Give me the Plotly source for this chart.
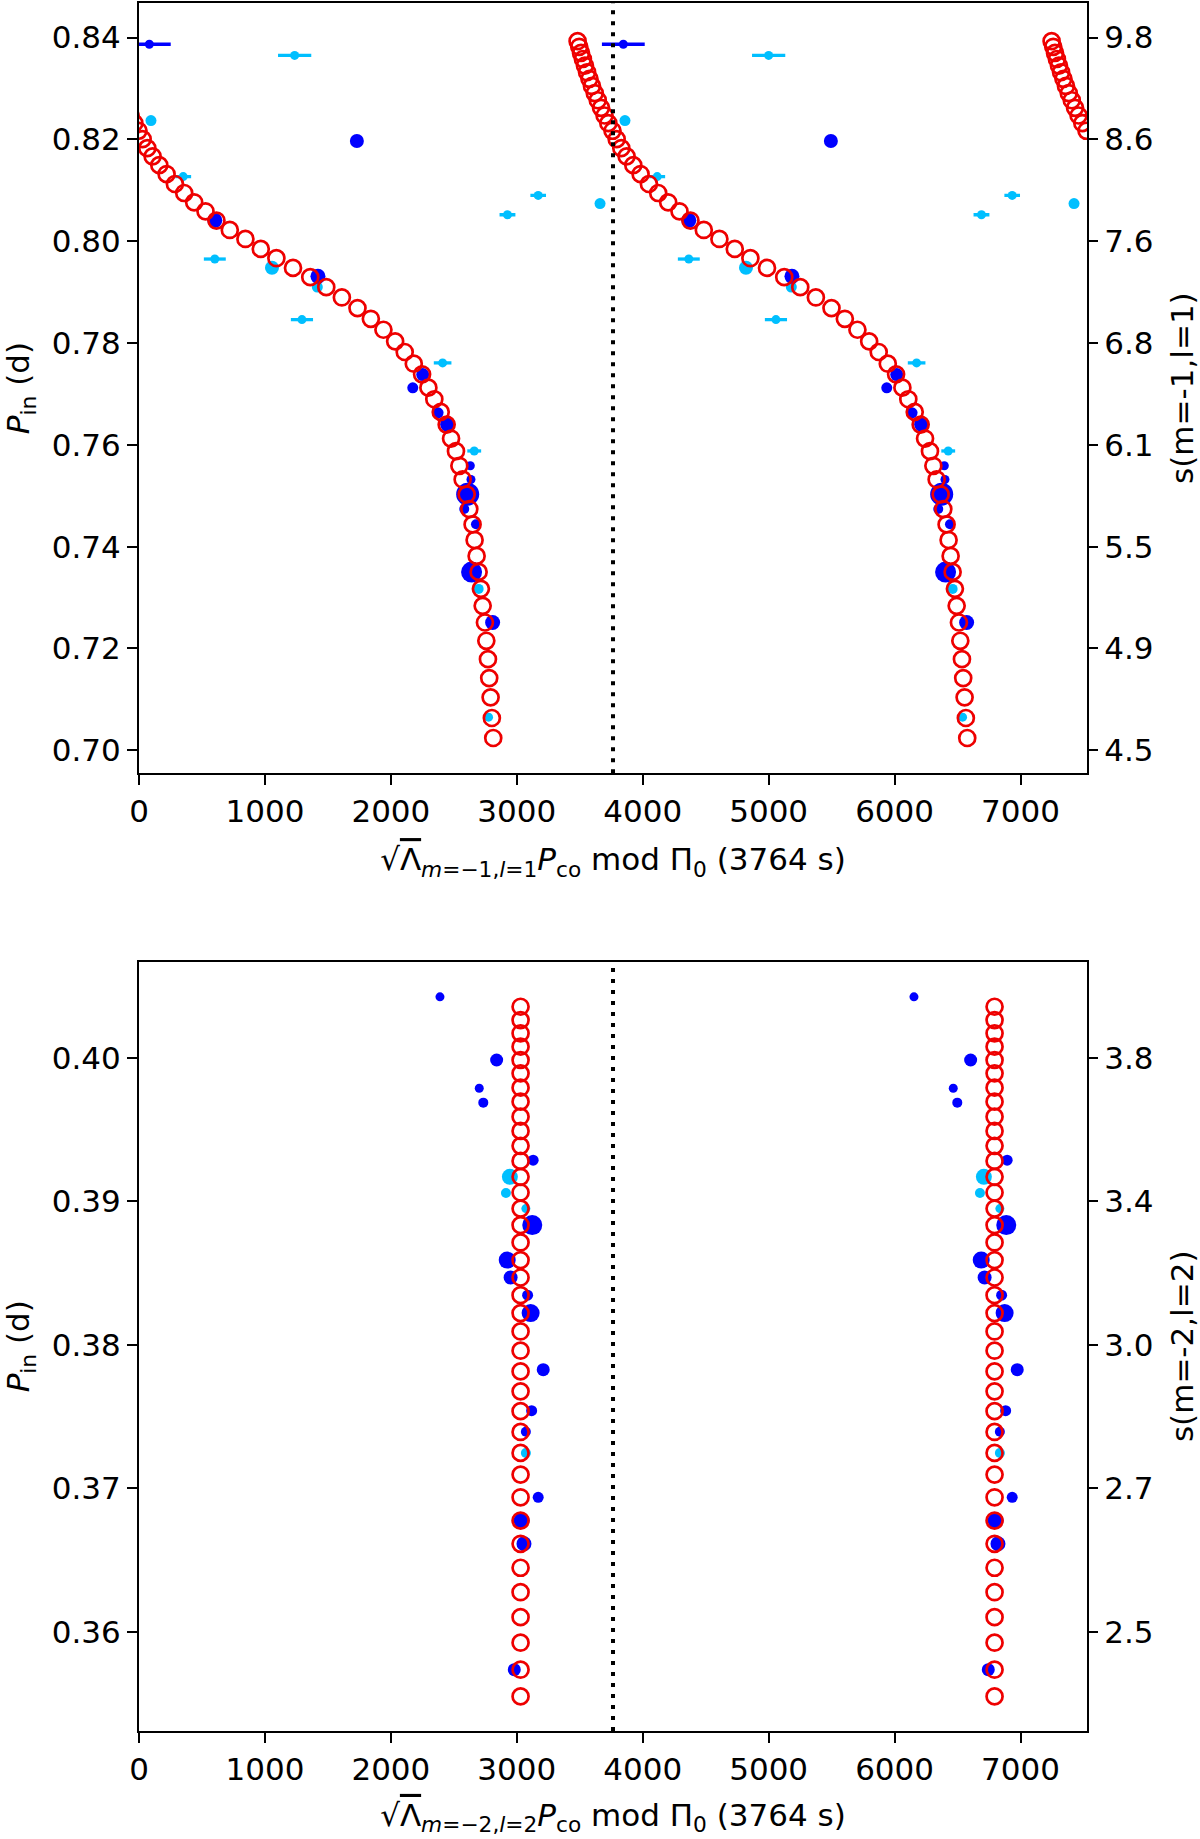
import numpy as np
import plotly.graph_objects as go

PI0 = 3764

# ---------------- top panel (m=-1, l=1) ----------------
top_model_v = [2813, 2802, 2792, 2781, 2771, 2758, 2747, 2729, 2715, 2697, 2681, 2665, 2649,
               2623, 2602, 2570, 2544, 2517, 2478, 2443, 2396, 2345, 2298, 2248, 2182, 2110,
               2034, 1941, 1841, 1735, 1611, 1487, 1360, 1223, 1091, 967, 845, 721, 615, 528,
               438, 359, 285, 219, 161, 108, 66, 29,
               3760, 3727, 3697, 3669, 3643, 3619, 3597, 3577, 3558, 3541, 3525, 3510, 3496, 3483]
top_model_P = [0.70241, 0.70634, 0.71039, 0.71418, 0.71790, 0.72151, 0.72510, 0.72837, 0.73171,
               0.73504, 0.73818, 0.74131, 0.74437, 0.74739, 0.75025, 0.75320, 0.75588, 0.75876,
               0.76124, 0.76398, 0.76647, 0.76896, 0.77124, 0.77386, 0.77594, 0.77824, 0.78033,
               0.78261, 0.78476, 0.78686, 0.78896, 0.79098, 0.79294, 0.79476, 0.79667, 0.79849,
               0.80045, 0.80222, 0.80406, 0.80588, 0.80765, 0.80947, 0.81124, 0.81320, 0.81496,
               0.81667, 0.81829, 0.82006,
               0.8217, 0.8232, 0.8247, 0.8262, 0.8277, 0.8291, 0.8305, 0.8319, 0.8332, 0.8345,
               0.8358, 0.8370, 0.8382, 0.8393]

top_blue_v = [82, 1730, 602, 1421, 2253, 2174, 2375, 2451, 2631, 2636, 2610, 2583, 2676, 2641, 2808]
top_blue_P = [0.8387, 0.8197, 0.8041, 0.7931, 0.7738, 0.7712, 0.7663, 0.7640, 0.7559, 0.7532,
              0.7503, 0.7474, 0.7444, 0.7350, 0.7251]
top_blue_size = [9, 14, 15, 15, 13, 11, 11, 15, 9, 9, 23, 10, 10, 21, 15]
top_blue_err = [170, 0, 0, 0, 0, 0, 0, 0, 0, 0, 0, 0, 15, 0, 0]

top_lblue_v = [1236, 95, 351, 3170, 2926, 3661, 602, 1056, 1416, 1294, 2411, 2662, 2697, 2776]
top_lblue_P = [0.8365, 0.8237, 0.8127, 0.8090, 0.8052, 0.8074, 0.7965, 0.7948, 0.7910, 0.7846,
               0.7761, 0.7588, 0.7317, 0.7065]
top_lblue_size = [9, 11, 9, 9, 9, 11, 9, 14, 11, 9, 9, 9, 10, 9]
top_lblue_err = [132, 20, 63, 62, 63, 15, 87, 0, 0, 88, 70, 55, 0, 0]

top_left_ticks = [0.70, 0.72, 0.74, 0.76, 0.78, 0.80, 0.82, 0.84]
top_left_labels = ["0.70", "0.72", "0.74", "0.76", "0.78", "0.80", "0.82", "0.84"]
top_right_labels = ["4.5", "4.9", "5.5", "6.1", "6.8", "7.6", "8.6", "9.8"]

# ---------------- bottom panel (m=-2, l=2) ----------------
bot_model_v = [3030] * 38
bot_model_P = [0.40355, 0.40262, 0.40170, 0.40077, 0.39984, 0.39891, 0.39791, 0.39694, 0.39589,
               0.39490, 0.39386, 0.39281, 0.39170, 0.39061, 0.38949, 0.38834, 0.38713, 0.38590,
               0.38469, 0.38346, 0.38221, 0.38093, 0.37959, 0.37815, 0.37676, 0.37538, 0.37393,
               0.37247, 0.37096, 0.36938, 0.36776, 0.36614, 0.36447, 0.36277, 0.36103, 0.35925,
               0.35737, 0.35551]

bot_blue_v = [2390, 2840, 2702, 2734, 3130, 3123, 2924, 2951, 3086, 3110, 3210, 3118, 3072,
              3170, 3038, 3057, 2980]
bot_blue_P = [0.40424, 0.39984, 0.39787, 0.39687, 0.39286, 0.38834, 0.38590, 0.38469, 0.38346,
              0.38221, 0.37827, 0.37541, 0.37395, 0.36938, 0.36776, 0.36614, 0.35737]
bot_blue_size = [9, 13, 9, 10, 11, 20, 17, 14, 11, 18, 13, 11, 10, 11, 16, 15, 13]
bot_blue_err = [20, 0, 0, 0, 0, 0, 0, 0, 0, 0, 0, 0, 0, 0, 0, 0, 0]

bot_lblue_v = [2945, 2914, 3072, 3072]
bot_lblue_P = [0.39170, 0.39058, 0.38949, 0.37247]
bot_lblue_size = [16, 10, 9, 10]
bot_lblue_err = [0, 0, 0, 0]

bot_left_ticks = [0.36, 0.37, 0.38, 0.39, 0.40]
bot_left_labels = ["0.36", "0.37", "0.38", "0.39", "0.40"]
bot_right_labels = ["2.5", "2.7", "3.0", "3.4", "3.8"]

x_ticks = [0, 1000, 2000, 3000, 4000, 5000, 6000, 7000]

BLUE = "#0000ff"
LBLUE = "#00bfff"
RED = "#ee0000"
FONT = "DejaVu Sans"
FS = 31


def copies(a):
    a = np.asarray(a, dtype=float)
    return np.concatenate([a - PI0, a, a + PI0])


def tile(a):
    a = np.asarray(a, dtype=float)
    return np.concatenate([a, a, a])


fig = go.Figure()


def add_obs(v, p, size, err, color, xa, ya):
    fig.add_trace(go.Scatter(
        x=copies(v), y=tile(p), mode="markers", xaxis=xa, yaxis=ya, showlegend=False,
        hoverinfo="skip",
        marker=dict(color=color, size=tile(size), opacity=1, line=dict(width=0)),
        error_x=dict(type="data", array=tile(err), color=color, thickness=3.3, width=0),
    ))


def add_model(v, p, xa, ya):
    fig.add_trace(go.Scatter(
        x=copies(v), y=tile(p), mode="markers", xaxis=xa, yaxis=ya, showlegend=False,
        marker=dict(symbol="circle-open", color=RED, size=16, opacity=1,
                    line=dict(width=2.7, color=RED)),
    ))


def add_anchor(v, p, xa, ya):
    # invisible copy so the right-hand (overlaying) axis is rendered
    fig.add_trace(go.Scatter(
        x=copies(v), y=tile(p), mode="markers", xaxis=xa, yaxis=ya, showlegend=False,
        hoverinfo="skip", marker=dict(opacity=0, size=1),
    ))


add_obs(top_lblue_v, top_lblue_P, top_lblue_size, top_lblue_err, LBLUE, "x", "y")
add_obs(top_blue_v, top_blue_P, top_blue_size, top_blue_err, BLUE, "x", "y")
add_model(top_model_v, top_model_P, "x", "y")
add_anchor(top_model_v, top_model_P, "x", "y3")
add_obs(bot_lblue_v, bot_lblue_P, bot_lblue_size, bot_lblue_err, LBLUE, "x2", "y2")
add_obs(bot_blue_v, bot_blue_P, bot_blue_size, bot_blue_err, BLUE, "x2", "y2")
add_model(bot_model_v, bot_model_P, "x2", "y2")
add_anchor(bot_model_v, bot_model_P, "x2", "y4")

XRANGE = [0, 2 * PI0]
TOP_RANGE = [0.6955, 0.8468]
BOT_RANGE = [0.3531, 0.4067]

tickfont = dict(family=FONT, size=FS, color="black")
axcommon = dict(showgrid=False, zeroline=False, showline=True, linecolor="black", linewidth=2,
                ticks="outside", ticklen=10, tickwidth=2, tickcolor="black", tickfont=tickfont)
rightcommon = dict(showgrid=False, zeroline=False, showline=False, ticks="outside", ticklen=10,
                   tickwidth=2, tickcolor="black", tickfont=tickfont)

xlab1 = ("√<span style='text-decoration:overline'>Λ</span><sub><i>m</i>=−1,<i>l</i>=1</sub>"
         "<i>P</i><sub>co</sub> mod Π<sub>0</sub> (3764 s)")
xlab2 = ("√<span style='text-decoration:overline'>Λ</span><sub><i>m</i>=−2,<i>l</i>=2</sub>"
         "<i>P</i><sub>co</sub> mod Π<sub>0</sub> (3764 s)")
ylab = "<i>P</i><sub>in</sub> (d)"

fig.update_layout(
    width=1200, height=1839,
    margin=dict(l=139, r=113, t=1, b=108),
    paper_bgcolor="white", plot_bgcolor="white",
    font=dict(family=FONT, size=FS, color="black"),
    xaxis=dict(domain=[0, 1], anchor="y", range=XRANGE, tickvals=x_ticks, mirror=True,
               title=dict(text=xlab1, font=tickfont, standoff=20), **axcommon),
    yaxis=dict(domain=[0.5543, 1], anchor="x", range=TOP_RANGE, tickvals=top_left_ticks,
               ticktext=top_left_labels, mirror=True,
               title=dict(text=ylab, font=tickfont, standoff=14), **axcommon),
    yaxis3=dict(overlaying="y", anchor="x", side="right", range=TOP_RANGE,
                tickvals=top_left_ticks, ticktext=top_right_labels,
                title=dict(text="s(m=-1,l=1)", font=tickfont, standoff=22), **rightcommon),
    xaxis2=dict(domain=[0, 1], anchor="y2", range=XRANGE, tickvals=x_ticks, mirror=True,
                title=dict(text=xlab2, font=tickfont, standoff=18), **axcommon),
    yaxis2=dict(domain=[0, 0.4453], anchor="x2", range=BOT_RANGE, tickvals=bot_left_ticks,
                ticktext=bot_left_labels, mirror=True,
                title=dict(text=ylab, font=tickfont, standoff=14), **axcommon),
    yaxis4=dict(overlaying="y2", anchor="x2", side="right", range=BOT_RANGE,
                tickvals=bot_left_ticks, ticktext=bot_right_labels,
                title=dict(text="s(m=-2,l=2)", font=tickfont, standoff=22), **rightcommon),
)

for xr, yr in (("x", "y domain"), ("x2", "y2 domain")):
    fig.add_shape(type="line", xref=xr, yref=yr, x0=PI0, x1=PI0, y0=0, y1=1, layer="above",
                  line=dict(color="black", width=4, dash="4px,7px"))

fig.write_html("out.html")
